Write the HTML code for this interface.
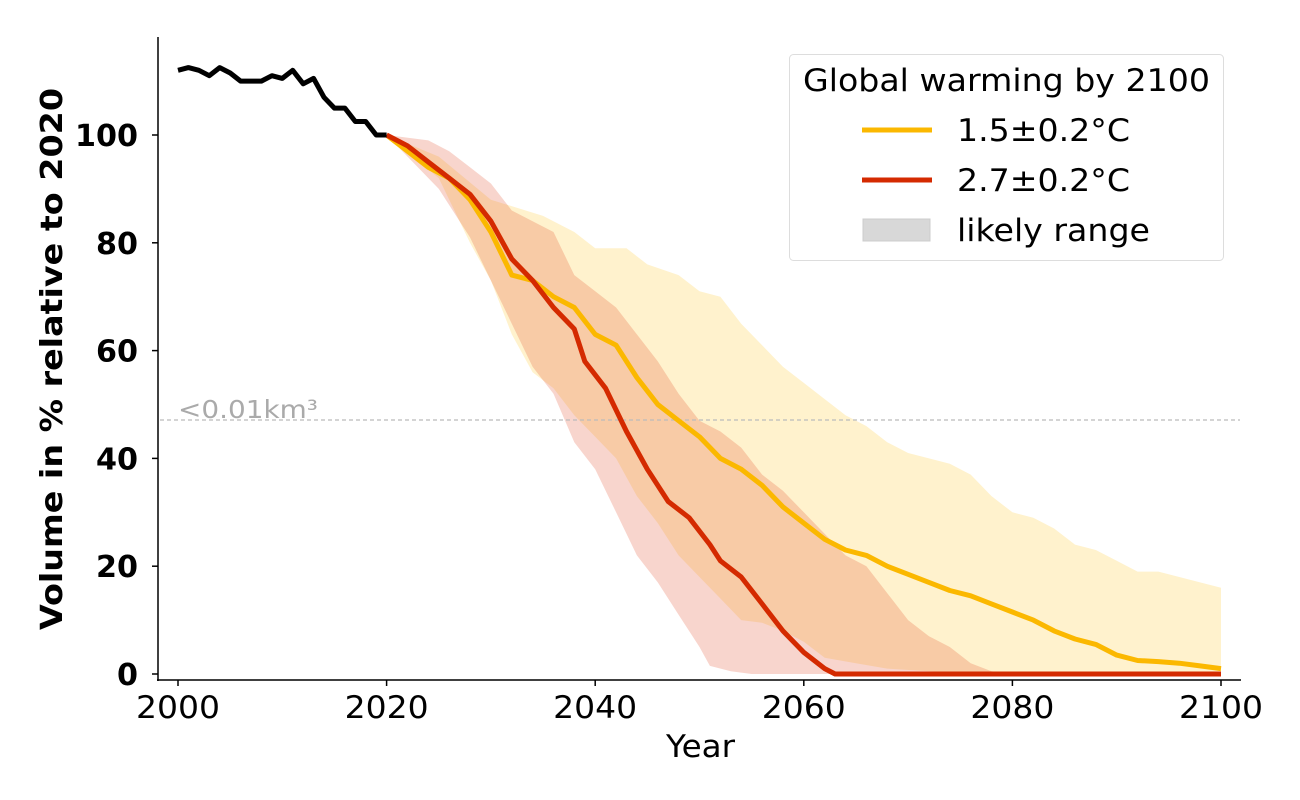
<!DOCTYPE html>
<html><head><meta charset="utf-8"><style>
body{margin:0;background:#fff;}
svg{display:block;font-family:"DejaVu Sans","Liberation Sans",sans-serif;}
</style></head><body>
<svg id="s" width="1300" height="800" xmlns="http://www.w3.org/2000/svg">
<g id="bands"></g>
<line x1="160" y1="420" x2="1240" y2="420" stroke="#bbb" stroke-width="1.2" stroke-dasharray="4,3"/>
<text x="178" y="418" font-size="25" fill="#aaa" textLength="140" lengthAdjust="spacingAndGlyphs">&lt;0.01km³</text>
<g id="lines"></g>
<line x1="158" y1="37" x2="158" y2="681" stroke="#000" stroke-width="1.5"/>
<line x1="157" y1="680" x2="1241" y2="680" stroke="#000" stroke-width="1.5"/>
<g id="ticks"></g>
<text x="666" y="757" font-size="31" textLength="69" lengthAdjust="spacingAndGlyphs">Year</text>
<text transform="translate(62,630) rotate(-90)" font-size="30" font-weight="bold" textLength="542" lengthAdjust="spacingAndGlyphs">Volume in % relative to 2020</text>
<rect x="789.5" y="54.5" width="434" height="206" rx="4" fill="#fff" fill-opacity="0.85" stroke="#ddd"/>
<text x="803" y="91" font-size="31" textLength="407" lengthAdjust="spacingAndGlyphs">Global warming by 2100</text>
<line x1="862" y1="130" x2="932" y2="130" stroke="#fbb800" stroke-width="5"/>
<text x="957" y="141" font-size="31" textLength="173" lengthAdjust="spacingAndGlyphs">1.5±0.2°C</text>
<line x1="862" y1="180" x2="932" y2="180" stroke="#d42a00" stroke-width="5"/>
<text x="957" y="191" font-size="31" textLength="173" lengthAdjust="spacingAndGlyphs">2.7±0.2°C</text>
<rect x="863" y="219" width="67" height="22" fill="#d8d8d8" stroke="#ccc"/>
<text x="957" y="241" font-size="31" textLength="193" lengthAdjust="spacingAndGlyphs">likely range</text>
</svg>
<script>
function X(y){return 178+(y-2000)*10.43}
function Y(v){return 674-v*5.39}
function pts(a){let r=[];for(let i=0;i<a.length;i+=2)r.push(X(a[i]).toFixed(1)+","+Y(a[i+1]).toFixed(1));return r}
function band(up,lo,fill,op){let p=pts(up),q=pts(lo).reverse();return `<polygon points="${p.concat(q).join(" ")}" fill="${fill}" fill-opacity="${op}"/>`}
function line(a,c){return `<polyline points="${pts(a).join(" ")}" fill="none" stroke="${c}" stroke-width="5" stroke-linejoin="round"/>`}
const yu=[2020,100,2025,96,2030,88,2035,85,2038,82,2040,79,2043,79,2045,76,2048,74,2050,71,2052,70,2054,65,2056,61,2058,57,2060,54,2062,51,2064,48,2066,46,2068,43,2070,41,2072,40,2074,39,2076,37,2078,33,2080,30,2082,29,2084,27,2086,24,2088,23,2090,21,2092,19,2094,19,2096,18,2098,17,2100,16];
const yl=[2020,100,2025,92,2028,80,2030,73,2032,63,2034,56,2036,53,2038,48,2040,44,2042,40,2044,33,2046,28,2048,22,2050,18,2052,14,2054,10,2056,9.5,2058,8,2060,6,2062,3,2065,2,2068,1,2072,0.5,2078,0,2100,0];
const ru=[2020,100,2024,99,2026,97,2028,94,2030,91,2032,86,2034,84,2036,82,2038,74,2040,71,2042,68,2044,63,2046,58,2048,52,2050,47,2052,45,2054,42,2056,37,2058,34,2060,30,2062,26,2064,22,2066,20,2068,15,2070,10,2072,7,2074,5,2076,2,2078,0.5,2080,0];
const rl=[2020,100,2025,90,2028,81,2030,73,2032,65,2034,57,2036,52,2038,43,2040,38,2042,30,2044,22,2046,17,2048,11,2050,5,2051,1.5,2053,0.5,2055,0,2080,0];
const ym=[2020,100,2022,97,2024,94,2026,92,2028,88,2030,82,2032,74,2034,73,2036,70,2038,68,2040,63,2042,61,2044,55,2046,50,2048,47,2050,44,2052,40,2054,38,2056,35,2058,31,2060,28,2062,25,2064,23,2066,22,2068,20,2070,18.5,2072,17,2074,15.5,2076,14.5,2078,13,2080,11.5,2082,10,2084,8,2086,6.5,2088,5.5,2090,3.5,2092,2.5,2094,2.3,2096,2,2098,1.5,2100,1];
const rm=[2020,100,2022,98,2024,95,2026,92,2028,89,2030,84,2032,77,2034,73,2036,68,2038,64,2039,58,2041,53,2043,45,2045,38,2047,32,2049,29,2051,24,2052,21,2054,18,2056,13,2058,8,2060,4,2062,1,2063,0,2100,0];
const bk=[2000,112,2001,112.5,2002,112,2003,111,2004,112.5,2005,111.5,2006,110,2007,110,2008,110,2009,111,2010,110.5,2011,112,2012,109.5,2013,110.5,2014,107,2015,105,2016,105,2017,102.5,2018,102.5,2019,100,2020,100];
document.getElementById("bands").innerHTML=band(yu,yl,"#ffc21a",0.22)+band(ru,rl,"#e0401a",0.22);
document.getElementById("lines").innerHTML=line(ym,"#fbb800")+line(rm,"#d42a00")+line(bk,"#000");
let t="";
for(let v=0;v<=100;v+=20){let y=Y(v);let s=String(v);t+=`<line x1="152" y1="${y}" x2="158" y2="${y}" stroke="#000" stroke-width="1.5"/><text x="${138-s.length*21}" y="${y+11}" font-size="30" font-weight="bold" textLength="${s.length*21}" lengthAdjust="spacingAndGlyphs">${s}</text>`}
for(let yr=2000;yr<=2100;yr+=20){let x=X(yr);t+=`<line x1="${x}" y1="680" x2="${x}" y2="686" stroke="#000" stroke-width="1.5"/><text x="${x-42}" y="718" font-size="31" textLength="84" lengthAdjust="spacingAndGlyphs">${yr}</text>`}
document.getElementById("ticks").innerHTML=t;
</script>
</body></html>
